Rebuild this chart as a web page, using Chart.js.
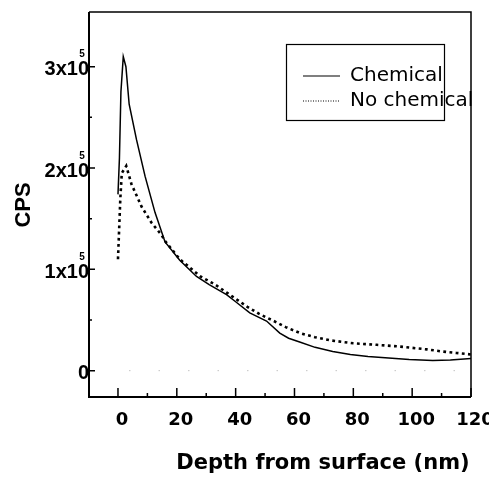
<!DOCTYPE html>
<html>
<head>
<meta charset="utf-8">
<script src="https://cdn.jsdelivr.net/npm/chart.js@4/dist/chart.umd.min.js"></script>
<style>
  html, body { margin: 0; padding: 0; background: #fff; }
  #wrap { width: 489px; height: 482px; }
</style>
</head>
<body>
<div id="wrap"><canvas id="c" width="489" height="482"></canvas></div>
<script>
// ---- data ----
const chemDepth = [0, 0.5, 1.0, 1.8, 2.7, 3.8, 6.3, 9.2, 12.6, 16, 21, 26.7, 31, 36.9, 40, 44.8, 50.5, 55, 58, 62, 67, 73, 79, 85, 92, 99, 107, 113, 120];
const chemCps = [174000, 210000, 275000, 310000, 300000, 263000, 228000, 192000, 156000, 127000, 109000, 93000, 85000, 75000, 68000, 57000, 49000, 37000, 32000, 28000, 23000, 19000, 16000, 14000, 12500, 11000, 10000, 10500, 12000];

const noChemDepth = [0, 0.4, 0.8, 1.3, 2.8, 4.6, 8, 11.4, 14.8, 16, 21, 28, 33, 37, 40, 44, 48, 53, 57, 62, 67, 72, 80, 88, 95, 100, 105, 110, 115, 120];
const noChemCps = [110000, 140000, 170000, 195000, 202000, 184000, 162000, 146000, 134000, 128000, 110000, 93000, 85000, 77000, 71000, 63000, 56000, 49000, 43000, 37000, 33000, 30000, 27000, 25500, 24000, 22500, 21000, 19000, 17500, 16000];

const seriesNames = ["Chemical", "No chemical"];
const xTickValues = [0, 20, 40, 60, 80, 100, 120];
const xTickLabels = ["0", "20", "40", "60", "80", "100", "120"];
const xMinorTicks = [10, 30, 50, 70, 90, 110];
const yTickValues = [0, 100000, 200000, 300000];
const yTickMantissa = ["0", "1x10", "2x10", "3x10"];
const yTickExponent = ["", "5", "5", "5"];
const yMinorTicks = [50000, 150000, 250000];
const xTitle = "Depth from surface (nm)";
const yTitle = "CPS";

const toPts = (xs, ys) => xs.map((v, i) => ({ x: v, y: ys[i] }));

const decor = {
  id: 'decor',
  afterDatasetsDraw(chart) {
    const { ctx, chartArea: a, scales: { x, y } } = chart;
    ctx.save();
    // faint zero baseline dots
    const y0 = y.getPixelForValue(0);
    ctx.strokeStyle = '#c4c4c4';
    ctx.lineWidth = 1;
    ctx.setLineDash([1.5, 28]);
    ctx.beginPath(); ctx.moveTo(a.left + 40, y0); ctx.lineTo(a.right - 5, y0); ctx.stroke();
    ctx.setLineDash([]);

    // frame
    ctx.strokeStyle = '#000';
    ctx.lineWidth = 1.5;
    ctx.beginPath();
    ctx.moveTo(a.left, a.top); ctx.lineTo(a.right, a.top); ctx.lineTo(a.right, a.bottom);
    ctx.stroke();
    ctx.lineWidth = 2;
    ctx.beginPath();
    ctx.moveTo(a.left, a.top); ctx.lineTo(a.left, a.bottom); ctx.lineTo(a.right, a.bottom);
    ctx.stroke();

    // x ticks (inward)
    ctx.lineWidth = 1.5;
    ctx.beginPath();
    xTickValues.forEach(v => { const px = x.getPixelForValue(v); ctx.moveTo(px, a.bottom); ctx.lineTo(px, a.bottom - 9); });
    xMinorTicks.forEach(v => { const px = x.getPixelForValue(v); ctx.moveTo(px, a.bottom); ctx.lineTo(px, a.bottom - 4); });
    // y ticks (inward)
    yTickValues.forEach(v => { const py = y.getPixelForValue(v); ctx.moveTo(a.left, py); ctx.lineTo(a.left + 6, py); });
    yMinorTicks.forEach(v => { const py = y.getPixelForValue(v); ctx.moveTo(a.left, py); ctx.lineTo(a.left + 3, py); });
    ctx.stroke();

    // x tick labels
    ctx.fillStyle = '#000';
    ctx.font = 'bold 18px "DejaVu Sans"';
    ctx.textAlign = 'center';
    ctx.textBaseline = 'middle';
    xTickValues.forEach((v, i) => {
      ctx.fillText(xTickLabels[i], x.getPixelForValue(v) + 4, a.bottom + 23);
    });

    // y tick labels with superscript exponent
    yTickValues.forEach((v, i) => {
      const py = y.getPixelForValue(v);
      ctx.font = 'bold 20px "Liberation Sans"';
      ctx.textAlign = 'right';
      ctx.textBaseline = 'middle';
      ctx.fillText(yTickMantissa[i], a.left, py + 3);
      if (yTickExponent[i]) {
        ctx.font = 'bold 10px "Liberation Sans"';
        ctx.textAlign = 'center';
        ctx.fillText(yTickExponent[i], a.left - 7, py - 12);
      }
    });

    // axis titles
    ctx.font = 'bold 21px "DejaVu Sans"';
    ctx.textAlign = 'center';
    ctx.textBaseline = 'middle';
    ctx.fillText(xTitle, 323, 464);
    ctx.save();
    ctx.translate(24, 205);
    ctx.rotate(-Math.PI / 2);
    ctx.font = 'bold 22px "Liberation Sans"';
    ctx.fillText(yTitle, 0, 0);
    ctx.restore();

    // legend
    ctx.lineWidth = 1.2;
    ctx.strokeStyle = '#000';
    ctx.strokeRect(286.5, 44.5, 158, 76);
    ctx.beginPath(); ctx.moveTo(303, 76); ctx.lineTo(340, 76); ctx.stroke();
    ctx.setLineDash([1, 1.5]);
    ctx.beginPath(); ctx.moveTo(303, 101); ctx.lineTo(340, 101); ctx.stroke();
    ctx.setLineDash([]);
    ctx.font = '20px "DejaVu Sans"';
    ctx.textAlign = 'left';
    ctx.textBaseline = 'middle';
    ctx.fillText(seriesNames[0], 350, 76);
    ctx.fillText(seriesNames[1], 350, 101);
    ctx.restore();
  }
};

new Chart(document.getElementById('c'), {
  type: 'line',
  data: {
    datasets: [
      {
        label: seriesNames[0],
        data: toPts(chemDepth, chemCps),
        borderColor: '#000',
        borderWidth: 1.5,
        pointRadius: 0,
        fill: false,
        tension: 0
      },
      {
        label: seriesNames[1],
        data: toPts(noChemDepth, noChemCps),
        borderColor: '#000',
        borderWidth: 2.6,
        borderDash: [2.8, 3.4],
        borderCapStyle: 'butt',
        pointRadius: 0,
        fill: false,
        tension: 0
      }
    ]
  },
  options: {
    responsive: false,
    devicePixelRatio: 1,
    animation: false,
    layout: { padding: { left: 89, top: 12, right: 18, bottom: 85 } },
    plugins: { legend: { display: false }, tooltip: { enabled: false } },
    scales: {
      x: { type: 'linear', display: false, min: -9.85, max: 120 },
      y: { type: 'linear', display: false, min: -26000, max: 354000 }
    }
  },
  plugins: [decor]
});
</script>
</body>
</html>
